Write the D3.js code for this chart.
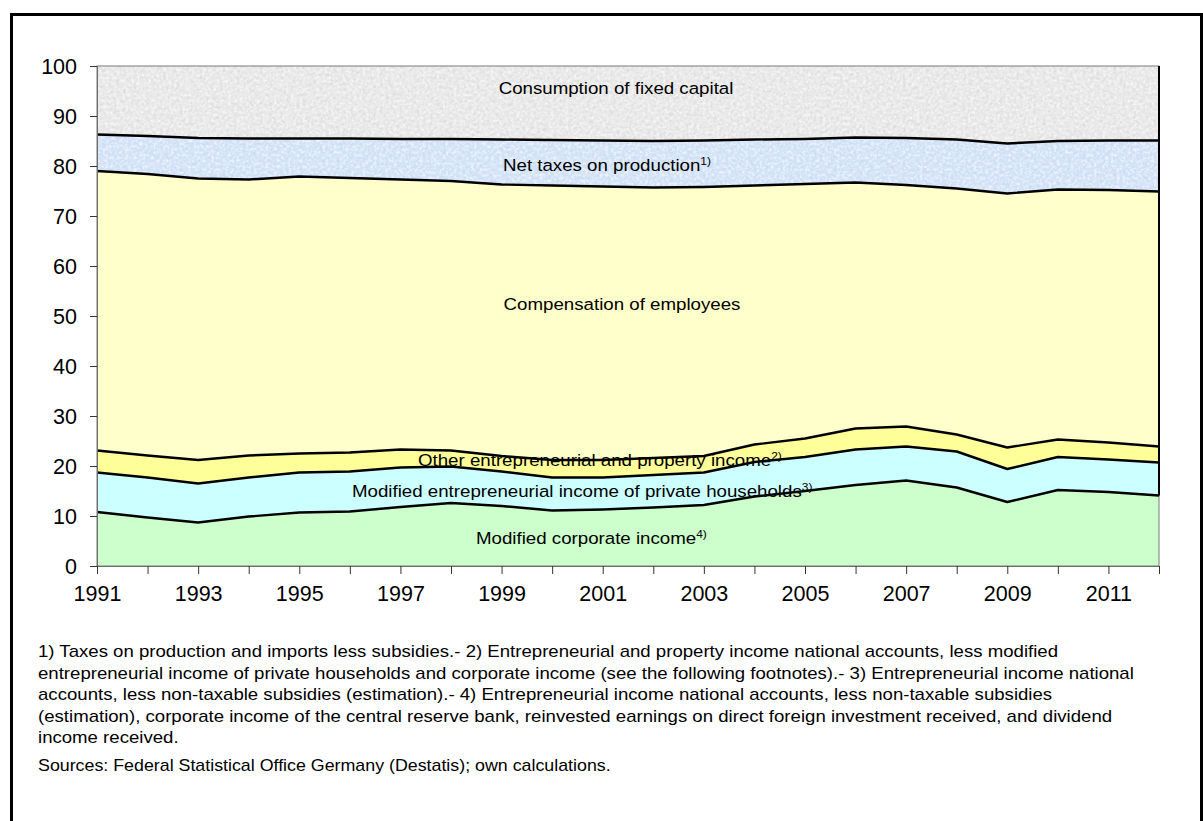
<!DOCTYPE html>
<html>
<head>
<meta charset="utf-8">
<script src="https://cdn.jsdelivr.net/npm/d3@7"></script>
<style>
  html, body { margin: 0; padding: 0; background: #fff; }
  svg { display: block; font-family: "Liberation Sans", Arial, sans-serif; }
</style>
</head>
<body>
<svg id="chart" width="1203" height="821"></svg>
<script>
// ---------- data (percent shares of gross domestic income) ----------
const years = [1991,1992,1993,1994,1995,1996,1997,1998,1999,2000,2001,2002,2003,2004,2005,2006,2007,2008,2009,2010,2011,2012];
const corporateIncome   = [10.8,9.7,8.7,9.9,10.7,10.9,11.8,12.6,12.0,11.1,11.3,11.7,12.2,13.9,15.0,16.2,17.1,15.7,12.8,15.2,14.8,14.1];
const householdIncome   = [7.9,8.0,7.8,7.8,8.0,8.0,7.9,7.3,6.9,6.6,6.4,6.5,6.5,6.9,6.8,7.1,6.8,7.2,6.6,6.6,6.5,6.6];
const otherIncome       = [4.4,4.4,4.7,4.4,3.8,3.8,3.6,3.2,3.1,3.5,3.5,3.4,3.3,3.5,3.7,4.2,4.0,3.4,4.3,3.5,3.4,3.2];
const compensation      = [55.9,56.3,56.3,55.2,55.4,54.9,54.0,53.9,54.3,54.9,54.7,54.1,53.8,51.8,50.9,49.2,48.3,49.2,50.8,50.0,50.5,51.0];
const netTaxes          = [7.3,7.6,8.1,8.2,7.6,7.9,8.1,8.4,9.0,9.1,9.2,9.3,9.3,9.2,9.0,9.0,9.4,9.8,10.0,9.7,9.9,10.2];
const fixedCapital      = [13.7,14.0,14.4,14.5,14.5,14.5,14.6,14.6,14.7,14.8,14.9,15.0,14.9,14.7,14.6,14.3,14.4,14.7,15.5,15.0,14.9,14.9];
const seriesKeys = ["corp","hh","other","comp","tax","cfc"];
const yTicks = [0,10,20,30,40,50,60,70,80,90,100];
const xLabelYears = [1991,1993,1995,1997,1999,2001,2003,2005,2007,2009,2011];
const footnotes = [
  "1) Taxes on production and imports less subsidies.- 2) Entrepreneurial and property income national accounts, less modified",
  "entrepreneurial income of private households and corporate income (see the following footnotes).- 3) Entrepreneurial income national",
  "accounts, less non-taxable subsidies (estimation).- 4) Entrepreneurial income national accounts, less non-taxable subsidies",
  "(estimation), corporate income of the central reserve bank, reinvested earnings on direct foreign investment received, and dividend",
  "income received."
];
const sourceText = "Sources: Federal Statistical Office Germany (Destatis); own calculations.";

// ---------- build table ----------
const table = years.map((y, i) => ({
  year: y, corp: corporateIncome[i], hh: householdIncome[i], other: otherIncome[i],
  comp: compensation[i], tax: netTaxes[i], cfc: fixedCapital[i]
}));

const svg = d3.select("#chart");
const W = 1203, H = 821;
const plot = {left: 97, right: 1159, top: 66, bottom: 566};

// outer frame
svg.append("path")
  .attr("d", `M11.5,${H+5} L11.5,14.5 L1201.5,14.5 L1201.5,${H+5}`)
  .attr("fill", "none").attr("stroke", "#000").attr("stroke-width", 3);

const x = d3.scaleLinear().domain([1991, 2012]).range([plot.left, plot.right]);
const y = d3.scaleLinear().domain([0, 100]).range([plot.bottom, plot.top]);

// textures
const defs = svg.append("defs");
function grain(id, seed, freq, tone, strength, offset) {
  const f = defs.append("filter").attr("id", id)
    .attr("x", 0).attr("y", 0).attr("width", 1).attr("height", 1)
    .attr("color-interpolation-filters", "sRGB");
  f.append("feTurbulence").attr("type", "fractalNoise").attr("baseFrequency", freq)
    .attr("numOctaves", 2).attr("seed", seed).attr("result", "n");
  f.append("feColorMatrix").attr("in", "n").attr("type", "matrix")
    .attr("values", `0 0 0 0 ${tone[0]}  0 0 0 0 ${tone[1]}  0 0 0 0 ${tone[2]}  ${strength} 0 0 0 ${offset}`)
    .attr("result", "spots");
  f.append("feComposite").attr("in", "spots").attr("in2", "SourceGraphic").attr("operator", "in").attr("result", "s2");
  const m = f.append("feMerge");
  m.append("feMergeNode").attr("in", "SourceGraphic");
  m.append("feMergeNode").attr("in", "s2");
}
grain("grainGray", 4, 0.3, [0.80,0.80,0.80], 3.0, -1.35);
grain("grainBlue", 7, 0.3, [0.74,0.82,0.92], 3.0, -1.35);
grain("grainGray2", 11, 0.35, [1,1,1], 3.0, -1.25);

const colors = {
  corp: "#ccffcc", hh: "#ccffff", other: "#ffff99", comp: "#ffffcc", tax: "#d3e3f8", cfc: "#e9e9e9"
};
const filters = { tax: "url(#grainBlue)", cfc: "url(#grainGray)" };

const stacked = d3.stack().keys(seriesKeys)(table);

const area = d3.area().x(d => x(d.data.year)).y0(d => y(d[0])).y1(d => y(d[1]));
const line = d3.line().x(d => x(d.data.year)).y(d => y(d[1]));

svg.append("g").selectAll("path").data(stacked).join("path")
  .attr("d", area)
  .attr("fill", d => colors[d.key])
  .attr("filter", d => filters[d.key] || null);
// white speckles over textured layers
svg.append("g").selectAll("path").data(stacked.filter(s => filters[s.key])).join("path")
  .attr("d", area).attr("fill", d => colors[d.key]).attr("opacity", 0.6)
  .attr("filter", "url(#grainGray2)");

// plot frame
svg.append("rect").attr("x", plot.left).attr("y", plot.top)
  .attr("width", plot.right - plot.left).attr("height", plot.bottom - plot.top)
  .attr("fill", "none").attr("stroke", "#7a7a7a").attr("stroke-width", 1);

// boundary lines
svg.append("g").selectAll("path").data(stacked.slice(0, 5)).join("path")
  .attr("d", line).attr("fill", "none").attr("stroke", "#000")
  .attr("stroke-width", 2.4).attr("stroke-linejoin", "round");

// right edge outline of outlined series
const last = stacked[0][stacked[0].length - 1];
svg.append("line")
  .attr("x1", x(2012)).attr("x2", x(2012))
  .attr("y1", y(last[1])).attr("y2", y(100))
  .attr("stroke", "#000").attr("stroke-width", 2);

// axes
const yAxis = svg.append("g").attr("transform", `translate(${plot.left},0)`)
  .call(d3.axisLeft(y).tickValues(yTicks).tickSize(7).tickPadding(13).tickFormat(d3.format("d")));
const xAxis = svg.append("g").attr("transform", `translate(0,${plot.bottom})`)
  .call(d3.axisBottom(x).tickValues(years).tickSize(8).tickPadding(12)
    .tickFormat(d => xLabelYears.includes(d) ? String(d) : ""));
[yAxis, xAxis].forEach(g => {
  g.select(".domain").attr("stroke", "#6e6e6e");
  g.selectAll(".tick line").attr("stroke", "#333");
  g.selectAll("text").attr("fill", "#000").attr("font-size", 21.5)
    .attr("font-family", "'Liberation Sans', Arial, sans-serif");
});
yAxis.selectAll("text").attr("dy", "0.35em");

// series labels (slightly horizontally stretched like the source rendering)
const labels = [
  {t: "Consumption of fixed capital", sup: "", x: 616, y: 88, anchor: "middle"},
  {t: "Net taxes on production", sup: "1)", x: 503, y: 165, anchor: "start"},
  {t: "Compensation of employees", sup: "", x: 622, y: 304, anchor: "middle"},
  {t: "Other entrepreneurial and property income", sup: "2)", x: 418, y: 460, anchor: "start"},
  {t: "Modified entrepreneurial income of private households", sup: "3)", x: 352, y: 491, anchor: "start"},
  {t: "Modified corporate income", sup: "4)", x: 476, y: 538, anchor: "start"}
];
const lg = svg.append("g").attr("font-size", 17.2).attr("fill", "#000");
labels.forEach(l => {
  const t = lg.append("text")
    .attr("transform", `translate(${l.x},${l.y + 6}) scale(1.087,1)`)
    .attr("text-anchor", l.anchor);
  t.append("tspan").text(l.t);
  if (l.sup) t.append("tspan").attr("font-size", 11).attr("dy", -6).text(l.sup);
});

// footnotes
const fg = svg.append("g").attr("font-size", 16).attr("fill", "#000");
footnotes.forEach((s, i) => {
  fg.append("text").attr("transform", `translate(38,${657 + i * 21.6}) scale(1.163,1)`).text(s);
});
svg.append("text").attr("transform", "translate(38,771) scale(1.1,1)")
  .attr("font-size", 16.2).attr("fill", "#000").text(sourceText);
</script>
</body>
</html>
